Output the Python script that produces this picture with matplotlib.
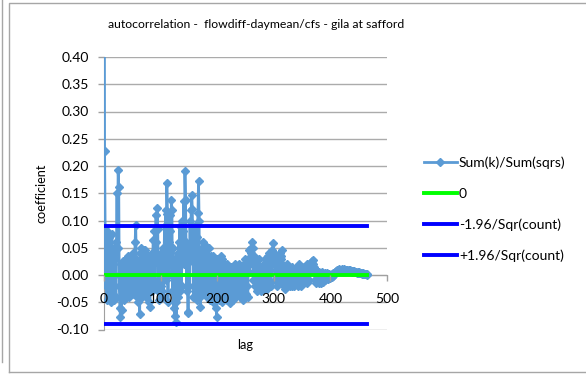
import matplotlib
matplotlib.use("Agg")
import matplotlib.pyplot as plt
from matplotlib.lines import Line2D

plt.rcParams['font.family'] = ['Lato', 'DejaVu Sans']

# autocorrelation coefficient for lag 0, 1, 2, ...
coef = [
    1.0, 0.228, 0.085, -0.02, 0.06, -0.045, 0.08, 0.01, -0.035, 0.07,
    -0.01, 0.04, -0.05, 0.03, 0.075, -0.03, 0.02, -0.045, 0.05, 0.0,
    0.03, -0.04, 0.06, 0.151, 0.05, 0.193, 0.162, -0.02, -0.06, -0.077,
    0.02, -0.065, 0.01, -0.035, 0.025, -0.045, 0.02, -0.02, 0.03, -0.04,
    0.025, -0.03, 0.035, -0.02, 0.03, -0.04, 0.02, -0.01, 0.035, -0.03,
    0.015, -0.025, 0.04, -0.035, 0.02, 0.06, 0.092, 0.03, -0.04, 0.01,
    -0.05, 0.02, -0.03, -0.072, 0.04, -0.02, 0.05, -0.04, 0.03, -0.015,
    0.045, -0.03, 0.046, -0.02, 0.02, -0.04, 0.015, -0.025, 0.035, -0.05,
    0.02, -0.058, 0.03, -0.02, 0.04, -0.03, 0.02, 0.065, -0.01, 0.08,
    -0.02, 0.06, 0.111, 0.03, 0.1225, 0.085, -0.03, 0.02, -0.045, 0.03,
    -0.02, 0.04, -0.03, 0.02, 0.05, -0.04, 0.03, 0.09, 0.02, 0.12,
    -0.01, 0.1685, 0.1115, -0.05, 0.06, 0.0, 0.08, 0.11, 0.02, 0.138,
    0.12, -0.03, 0.05, -0.06, 0.02, -0.075, 0.03, -0.05, -0.087, 0.01,
    0.04, -0.04, 0.06, 0.0, 0.09, -0.03, 0.05, -0.02, 0.1, 0.03,
    0.08, 0.135, 0.02, 0.191, 0.137, 0.06, -0.03, 0.04, -0.068, -0.07,
    0.05, -0.02, 0.1, 0.03, 0.12, 0.147, 0.121, 0.04, -0.04, 0.08,
    0.02, 0.09, -0.03, 0.06, -0.045, 0.07, 0.113, 0.172, 0.1, -0.04,
    -0.058, 0.03, -0.02, 0.05, -0.03, 0.06, 0.0, 0.04, -0.035, 0.055,
    -0.02, 0.045, -0.04, 0.03, -0.01, 0.05, -0.03, 0.02, -0.045, 0.035,
    -0.02, 0.01, 0.034, -0.05, 0.02, -0.03, 0.025, -0.06, 0.01, -0.077,
    0.03, -0.04, 0.02, -0.045, 0.015, -0.03, 0.035, -0.02, 0.03, -0.05,
    0.01, -0.035, 0.02, -0.04, 0.015, -0.025, 0.01, -0.045, 0.02, -0.03,
    0.01, -0.04, -0.052, 0.005, -0.03, 0.015, -0.035, 0.0, -0.045, 0.01,
    -0.03, 0.02, -0.04, 0.005, -0.025, 0.015, -0.035, 0.01, -0.02, 0.02,
    -0.04, 0.005, -0.03, 0.015, -0.025, 0.01, -0.045, 0.02, -0.02, 0.03,
    -0.035, 0.01, -0.02, 0.025, -0.04, 0.03, 0.005, 0.045, 0.02, 0.05,
    0.04, 0.061, 0.03, 0.05, -0.01, 0.035, -0.02, 0.03, 0.0, 0.025,
    -0.03, 0.02, -0.015, 0.03, -0.025, 0.01, -0.02, 0.015, -0.03, 0.005,
    -0.02, 0.015, -0.025, 0.02, -0.01, 0.03, -0.02, 0.01, -0.025, 0.02,
    0.035, -0.015, 0.04, 0.01, 0.03, -0.02, 0.045, 0.02, 0.04, 0.058,
    0.03, 0.04, -0.01, 0.02, 0.035, 0.01, -0.02, 0.025, 0.0, 0.03,
    -0.015, 0.04, 0.03, 0.035, 0.046, 0.02, -0.01, 0.015, -0.02, 0.01,
    -0.025, 0.015, -0.01, 0.02, -0.02, 0.01, -0.015, 0.015, -0.02, 0.005,
    -0.015, 0.01, -0.02, 0.015, -0.01, 0.005, -0.02, 0.01, -0.015, 0.005,
    -0.01, 0.015, -0.02, 0.01, -0.015, 0.02, -0.01, 0.005, -0.02, 0.015,
    -0.01, 0.01, -0.015, 0.005, -0.01, 0.015, -0.005, 0.01, -0.015, 0.02,
    0.005, 0.015, -0.01, 0.02, 0.01, 0.022, 0.015, 0.025, 0.01, 0.027,
    0.02, 0.015, 0.005, -0.01, 0.01, -0.015, 0.005, -0.01, 0.0, -0.015,
    0.005, -0.012, 0.003, -0.015, 0.0, -0.01, 0.005, -0.012, 0.002, -0.008,
    0.004, -0.01, 0.0, -0.006, 0.003, -0.008, 0.0, -0.004, 0.002, -0.005,
    0.0, -0.003, 0.002, -0.004, 0.003, -0.002, 0.004, 0.002, 0.006, 0.004,
    0.008, 0.006, 0.009, 0.007, 0.01, 0.008, 0.011, 0.009, 0.01, 0.008,
    0.011, 0.009, 0.01, 0.008, 0.011, 0.009, 0.01, 0.008, 0.01, 0.009,
    0.01, 0.008, 0.009, 0.008, 0.009, 0.007, 0.008, 0.007, 0.008, 0.006,
    0.007, 0.006, 0.007, 0.005, 0.006, 0.005, 0.006, 0.004, 0.005, 0.004,
    0.005, 0.003, 0.004, 0.003, 0.004, 0.002, 0.003, 0.002, 0.003, 0.002,
    0.002, 0.001, 0.002, 0.001, 0.0, 0.001,
]
lags = list(range(len(coef)))

band = 0.0905   # 1.96/sqrt(count)
series_names = ['Sum(k)/Sum(sqrs)', '0', '-1.96/Sqr(count)', '+1.96/Sqr(count)']
yticks = [-0.10, -0.05, 0.00, 0.05, 0.10, 0.15, 0.20, 0.25, 0.30, 0.35, 0.40]
xticks = [0, 100, 200, 300, 400, 500]

W, H = 586, 374
fig = plt.figure(figsize=(W / 100, H / 100), dpi=100)

# plot area in pixel coords -> figure fractions
left, right, top, bottom = 104, 387, 57, 329.5
ax = fig.add_axes([left / W, 1 - bottom / H, (right - left) / W, (bottom - top) / H])

ax.plot(lags, coef, color='#5B9BD5', lw=2.0, marker='D', markersize=4.5,
        label=series_names[0], zorder=3)
ax.plot(lags, [0.0] * len(lags), color='#00FF00', lw=2.8, label=series_names[1], zorder=4)
ax.plot(lags, [-band] * len(lags), color='#0000FF', lw=2.8, label=series_names[2], zorder=4)
ax.plot(lags, [band] * len(lags), color='#0000FF', lw=2.8, label=series_names[3], zorder=4)

ax.set_xlim(0, 500)
ax.set_ylim(-0.10, 0.40)
ax.set_xticks(xticks)
ax.set_yticks(yticks)
ax.set_yticklabels(['%.2f' % v for v in yticks])

ax.grid(axis='y', color='#ababab', lw=1)
ax.set_axisbelow(True)
ax.xaxis.set_zorder(5)   # x labels sit on top of the data, as in the original
for s in ['top', 'right']:
    ax.spines[s].set_visible(False)
ax.spines['bottom'].set_position(('data', 0))
ax.spines['left'].set_color('#a0a0a0')
ax.spines['bottom'].set_color('#a0a0a0')
ax.tick_params(axis='both', colors='#a0a0a0', labelcolor='black', labelsize=10,
               length=4, width=1)
ax.tick_params(axis='y', pad=7)
ax.tick_params(axis='x', pad=9)

fig.text(256 / W, 1 - 25 / H, 'autocorrelation -  flowdiff-daymean/cfs - gila at safford',
         ha='center', va='center', fontsize=8.8)
fig.text(42 / W, 1 - 193 / H, 'coefficient', rotation=90, ha='center', va='center', fontsize=9.2)
fig.text(245 / W, 1 - 345 / H, 'lag', ha='center', va='center', fontsize=9.2)

leg = fig.legend(loc='upper left', bbox_to_anchor=(418 / W, 1 - 151 / H), frameon=False,
                 fontsize=10, handlelength=2.4, handletextpad=0.15, labelspacing=1.33,
                 borderaxespad=0)

# chart-area border, as in the spreadsheet
fig.add_artist(Line2D([9 / W, 9 / W, 1], [1 - 372 / H, 1 - 3 / H, 1 - 3 / H],
                      transform=fig.transFigure, color='#a6a6a6', lw=1))
fig.add_artist(Line2D([9 / W, 1], [1 - 372 / H, 1 - 372 / H],
                      transform=fig.transFigure, color='#a6a6a6', lw=1))
fig.add_artist(Line2D([2 / W, 2 / W], [1 - 362 / H, 1],
                      transform=fig.transFigure, color='#a6a6a6', lw=1))

fig.savefig('out.png', dpi=100)
